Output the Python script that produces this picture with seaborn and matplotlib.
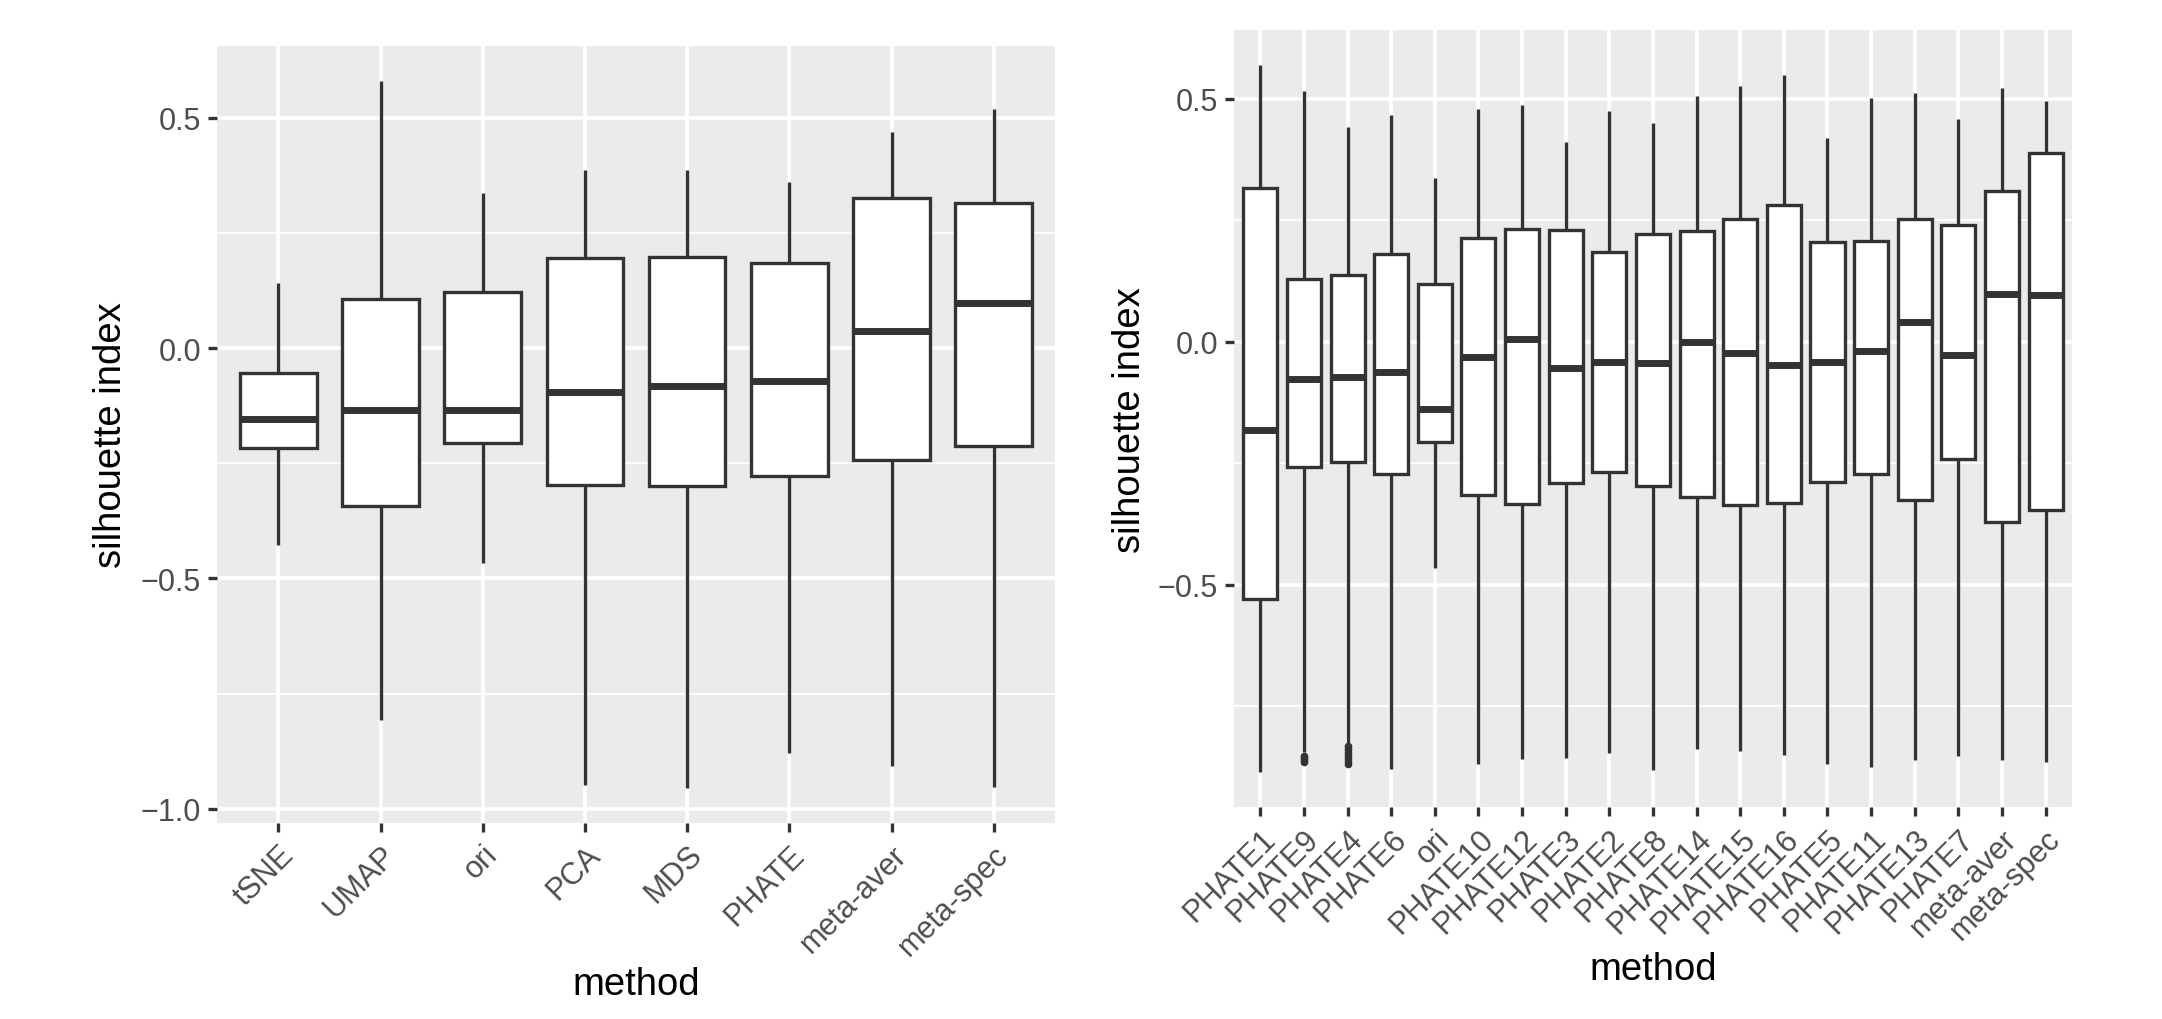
import matplotlib
matplotlib.use("Agg")
import matplotlib.pyplot as plt
from matplotlib.ticker import MultipleLocator
import pandas as pd
import seaborn as sns

# left panel, five-number summaries per method
left_methods = ["tSNE", "UMAP", "ori", "PCA", "MDS", "PHATE", "meta-aver", "meta-spec"]
left_lo = [-0.427, -0.808, -0.466, -0.949, -0.955, -0.879, -0.907, -0.953]
left_q1 = [-0.216, -0.342, -0.206, -0.297, -0.299, -0.278, -0.244, -0.213]
left_med = [-0.154, -0.134, -0.134, -0.096, -0.082, -0.071, 0.037, 0.097]
left_q3 = [-0.054, 0.107, 0.121, 0.196, 0.198, 0.185, 0.325, 0.316]
left_hi = [0.141, 0.580, 0.336, 0.387, 0.386, 0.360, 0.470, 0.520]

# right panel
right_methods = ["PHATE1", "PHATE9", "PHATE4", "PHATE6", "ori", "PHATE10", "PHATE12",
                 "PHATE3", "PHATE2", "PHATE8", "PHATE14", "PHATE15", "PHATE16", "PHATE5",
                 "PHATE11", "PHATE13", "PHATE7", "meta-aver", "meta-spec"]
right_lo = [-0.886, -0.845, -0.826, -0.880, -0.466, -0.869, -0.859, -0.857, -0.846, -0.882,
            -0.839, -0.843, -0.851, -0.869, -0.876, -0.862, -0.853, -0.862, -0.866]
right_q1 = [-0.529, -0.258, -0.248, -0.272, -0.206, -0.315, -0.335, -0.290, -0.268, -0.297,
            -0.319, -0.336, -0.333, -0.288, -0.272, -0.325, -0.241, -0.372, -0.347]
right_med = [-0.181, -0.076, -0.072, -0.063, -0.138, -0.031, 0.005, -0.055, -0.041, -0.044,
             -0.001, -0.024, -0.047, -0.041, -0.019, 0.040, -0.028, 0.098, 0.096]
right_q3 = [0.316, 0.130, 0.137, 0.181, 0.119, 0.213, 0.232, 0.229, 0.185, 0.222,
            0.228, 0.252, 0.282, 0.206, 0.207, 0.252, 0.240, 0.311, 0.388]
right_hi = [0.569, 0.517, 0.442, 0.467, 0.337, 0.478, 0.487, 0.411, 0.475, 0.451,
            0.506, 0.526, 0.549, 0.420, 0.501, 0.511, 0.459, 0.522, 0.495]

outlier_methods = ["PHATE9"] * 4 + ["PHATE4"] * 7
outlier_values = [-0.852, -0.857, -0.862, -0.866,
                  -0.832, -0.838, -0.845, -0.851, -0.857, -0.863, -0.870]

LINE = "#333333"
TICKTXT = "#4D4D4D"


def long_frame(methods, *cols):
    rows = []
    for i, m in enumerate(methods):
        for col in cols:
            rows.append((m, col[i]))
    return pd.DataFrame(rows, columns=["method", "silhouette"])


def style_axis(ax, order, ymin, ymax, ylab_x, xlab_y):
    n = len(order)
    pad = (ymax - ymin) * 0.05
    ax.set_xlim(-0.6, n - 0.4)
    ax.set_ylim(ymin - pad, ymax + pad)
    ax.set_facecolor("#EBEBEB")
    for s in ax.spines.values():
        s.set_visible(False)
    ax.yaxis.set_major_locator(MultipleLocator(0.5))
    ax.yaxis.set_minor_locator(MultipleLocator(0.25))
    ax.set_xticks(range(n))
    ax.set_xticklabels(order, rotation=45, ha="right", va="top", rotation_mode="anchor")
    ax.grid(False)
    ax.xaxis.grid(True, which="major", color="white", linewidth=2.6)
    ax.yaxis.grid(True, which="major", color="white", linewidth=2.6)
    ax.yaxis.grid(True, which="minor", color="white", linewidth=1.3)
    ax.set_axisbelow(True)
    ax.tick_params(which="major", bottom=True, left=True, length=6.5, width=2.4,
                   color=LINE, labelcolor=TICKTXT, labelsize=22, pad=5)
    ax.tick_params(which="minor", length=0)
    ax.set_xlabel("method", fontsize=27.5, color="black")
    ax.set_ylabel("silhouette index", fontsize=27.5, color="black")
    ax.xaxis.set_label_coords(0.5, xlab_y)
    ax.yaxis.set_label_coords(ylab_x, 0.5)


sns.set_theme(style="darkgrid")
plt.rcParams["font.family"] = ["Liberation Sans", "DejaVu Sans"]

fig = plt.figure(figsize=(21.62, 10.2), dpi=100)
ax1 = fig.add_axes([0.1004, 0.1919, 0.3876, 0.7624])
ax2 = fig.add_axes([0.5708, 0.2074, 0.3875, 0.7623])

left_df = long_frame(left_methods, left_lo, left_q1, left_med, left_q3, left_hi)
right_df = long_frame(right_methods, right_lo, right_q1, right_med, right_q3, right_hi)

sns.boxplot(data=left_df, x="method", y="silhouette", order=left_methods, whis=(0, 100),
            width=0.75, color="white", linecolor=LINE, linewidth=2.4, showcaps=False,
            fliersize=0, medianprops=dict(linewidth=5), ax=ax1)

sns.boxplot(data=right_df, x="method", y="silhouette", order=right_methods, whis=(0, 100),
            width=0.78, color="white", linecolor=LINE, linewidth=2.4, showcaps=False,
            fliersize=0, medianprops=dict(linewidth=5), ax=ax2)
sns.stripplot(x=outlier_methods, y=outlier_values, order=right_methods, jitter=False,
              color=LINE, size=5.5, linewidth=0, ax=ax2)

style_axis(ax1, left_methods, min(left_lo), max(left_hi), -0.105, -0.184)
style_axis(ax2, right_methods, min(right_lo + outlier_values), max(right_hi), -0.103, -0.184)

fig.savefig("out.png", dpi=100, facecolor="white")
